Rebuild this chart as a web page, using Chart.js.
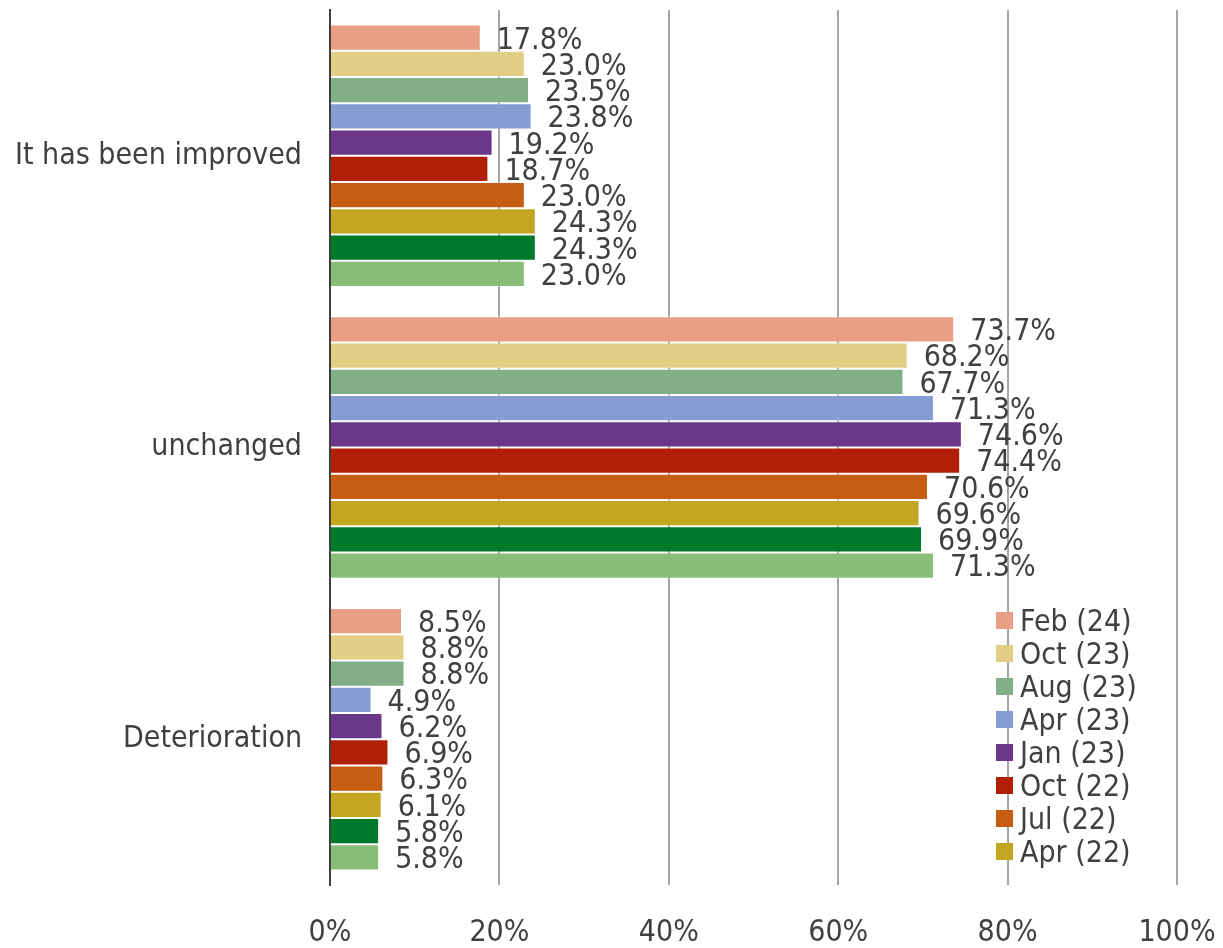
<!DOCTYPE html>
<html>
<head>
<meta charset="utf-8">
<script src="https://cdn.jsdelivr.net/npm/chart.js@4"></script>
<style>
  html, body { margin: 0; padding: 0; background: #fff; }
  #wrap { position: relative; width: 1223px; height: 948px; }
  #legend {
    position: absolute; left: 996px; top: 604px;
    font-family: 'DejaVu Sans Condensed', 'DejaVu Sans', sans-serif; font-stretch: condensed;
    font-size: 30px; color: #404040;
  }
  #legend .item { height: 33px; display: flex; align-items: center; }
  #legend .box { width: 17px; height: 17px; margin-right: 7px; }
</style>
</head>
<body>
<div id="wrap">
  <canvas id="chart" width="1223" height="948"></canvas>
  <div id="legend"></div>
</div>
<script>
const categories = ['It has been improved', 'unchanged', 'Deterioration'];
const seriesNames = ['Feb (24)', 'Oct (23)', 'Aug (23)', 'Apr (23)', 'Jan (23)', 'Oct (22)', 'Jul (22)', 'Apr (22)', 'Jan (22)', 'Oct (21)'];
const seriesColors = ['#E89F86', '#E3CE86', '#82AE88', '#869DD3', '#6A3789', '#B11F07', '#C65D10', '#C4A720', '#007A2A', '#8ABD77'];
const improved = [17.8, 23.0, 23.5, 23.8, 19.2, 18.7, 23.0, 24.3, 24.3, 23.0];
const unchanged = [73.7, 68.2, 67.7, 71.3, 74.6, 74.4, 70.6, 69.6, 69.9, 71.3];
const deterioration = [8.5, 8.8, 8.8, 4.9, 6.2, 6.9, 6.3, 6.1, 5.8, 5.8];
const xTicks = [0, 20, 40, 60, 80, 100];
const legendCount = 8;

const FONT = "'DejaVu Sans Condensed', 'DejaVu Sans', sans-serif";
const TEXT = '#404040';

const datasets = seriesNames.map((name, i) => ({
    label: name,
    data: [improved[i], unchanged[i], deterioration[i]],
    backgroundColor: seriesColors[i],
    borderColor: 'rgba(255,255,255,0.35)',
    borderWidth: 1,
    categoryPercentage: 0.9,
    barPercentage: 1.0
}));

// value labels to the right of each bar
const valueLabels = {
    id: 'valueLabels',
    afterDatasetsDraw(chart) {
        const ctx = chart.ctx;
        ctx.save();
        ctx.font = `30px ${FONT}`;
        ctx.fillStyle = TEXT;
        ctx.textAlign = 'left';
        ctx.textBaseline = 'middle';
        chart.data.datasets.forEach((ds, i) => {
            chart.getDatasetMeta(i).data.forEach((bar, j) => {
                ctx.fillText(ds.data[j].toFixed(1) + '%', bar.x + 16, bar.y + 3);
            });
        });
        ctx.restore();
    }
};

const noPad = s => { s.paddingLeft = s.paddingRight = s.paddingTop = s.paddingBottom = 0; };

new Chart(document.getElementById('chart'), {
    type: 'bar',
    data: { labels: categories, datasets: datasets },
    options: {
        indexAxis: 'y',
        responsive: false,
        animation: false,
        layout: { padding: { top: 10, right: 46, left: 0, bottom: 0 } },
        plugins: {
            legend: { display: false },
            tooltip: { enabled: false }
        },
        scales: {
            x: {
                min: 0, max: 100,
                afterBuildTicks: s => { s.ticks = xTicks.map(v => ({ value: v })); },
                afterFit: s => { s.height = 63; noPad(s); },
                grid: { color: '#A6A6A6', lineWidth: 2, drawTicks: false },
                border: { display: false },
                ticks: {
                    padding: 30,
                    color: TEXT,
                    font: { family: FONT, size: 30 },
                    callback: v => v + '%'
                }
            },
            y: {
                afterFit: s => { s.width = 330; noPad(s); },
                grid: { display: false, drawTicks: false },
                border: { display: true, color: '#404040', width: 2 },
                ticks: {
                    padding: 28,
                    color: TEXT,
                    font: { family: FONT, size: 30 }
                }
            }
        }
    },
    plugins: [valueLabels]
});

const legend = document.getElementById('legend');
seriesNames.slice(0, legendCount).forEach((name, i) => {
    const item = document.createElement('div');
    item.className = 'item';
    item.innerHTML = `<span class="box" style="background:${seriesColors[i]}"></span><span>${name}</span>`;
    legend.appendChild(item);
});
</script>
</body>
</html>
